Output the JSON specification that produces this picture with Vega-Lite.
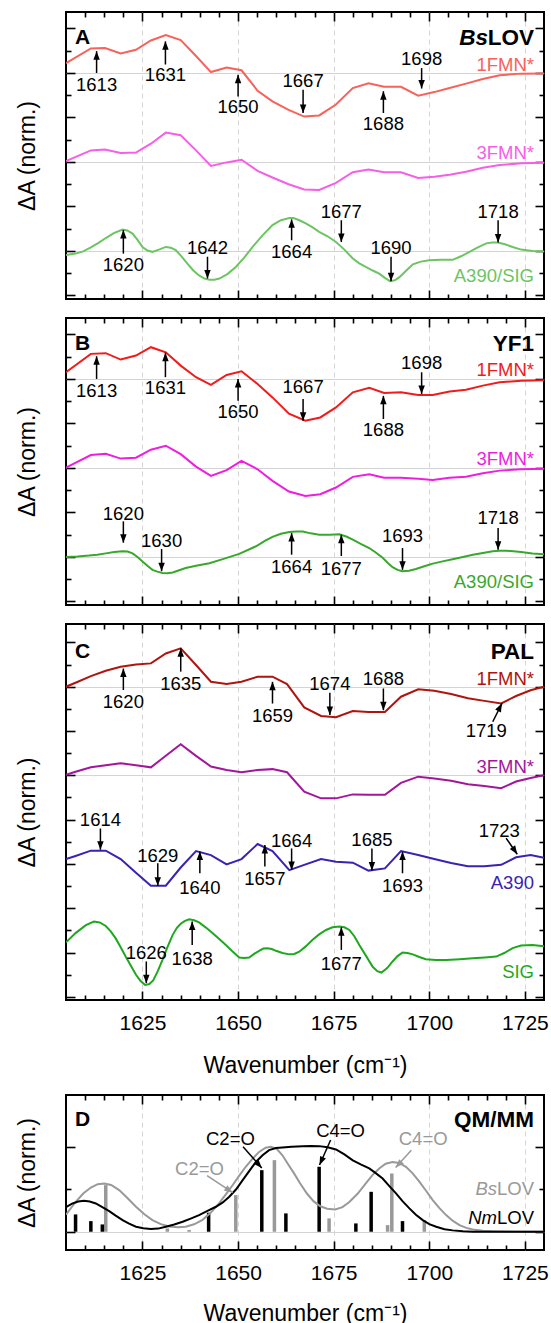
{
"$schema": "https://vega.github.io/schema/vega-lite/v6.json",
"padding": {"left": 15, "top": 10, "right": 5, "bottom": 0},
"config": {"font": "Liberation Sans", "view": {"stroke": "black", "strokeWidth": 2}, "axis": {"labelFont": "Liberation Sans", "titleFont": "Liberation Sans"}},
"spacing": 15,
"resolve": {"scale": {"color": "independent", "shape": "independent"}},
"datasets": {
"aL": [
{"x":1605,"y":0.22,"s":"1FMN*"},{"x":1611.5,"y":0.55,"s":"1FMN*"},{"x":1615.2,"y":0.56,"s":"1FMN*"},{"x":1619.3,"y":0.44,"s":"1FMN*"},{"x":1623.3,"y":0.52,"s":"1FMN*"},{"x":1627.2,"y":0.73,"s":"1FMN*"},{"x":1631.1,"y":0.85,"s":"1FMN*"},{"x":1635,"y":0.74,"s":"1FMN*"},{"x":1639,"y":0.38,"s":"1FMN*"},{"x":1642.9,"y":0.02,"s":"1FMN*"},{"x":1647,"y":0.12,"s":"1FMN*"},{"x":1650.9,"y":0.06,"s":"1FMN*"},{"x":1655.1,"y":-0.40,"s":"1FMN*"},{"x":1659,"y":-0.64,"s":"1FMN*"},{"x":1663.2,"y":-0.83,"s":"1FMN*"},{"x":1667.3,"y":-0.98,"s":"1FMN*"},{"x":1671.2,"y":-0.955,"s":"1FMN*"},{"x":1675.6,"y":-0.71,"s":"1FMN*"},{"x":1680,"y":-0.34,"s":"1FMN*"},{"x":1684.1,"y":-0.23,"s":"1FMN*"},{"x":1688.2,"y":-0.31,"s":"1FMN*"},{"x":1692.6,"y":-0.31,"s":"1FMN*"},{"x":1697.1,"y":-0.51,"s":"1FMN*"},{"x":1701.3,"y":-0.43,"s":"1FMN*"},{"x":1705.3,"y":-0.34,"s":"1FMN*"},{"x":1709.6,"y":-0.24,"s":"1FMN*"},{"x":1714,"y":-0.135,"s":"1FMN*"},{"x":1718.4,"y":-0.05,"s":"1FMN*"},{"x":1724,"y":-0.015,"s":"1FMN*"},{"x":1730,"y":-0.01,"s":"1FMN*"},
{"x":1605,"y":-1.98,"s":"3FMN*"},{"x":1611.5,"y":-1.74,"s":"3FMN*"},{"x":1615.2,"y":-1.72,"s":"3FMN*"},{"x":1619.3,"y":-1.80,"s":"3FMN*"},{"x":1623.3,"y":-1.79,"s":"3FMN*"},{"x":1627.2,"y":-1.59,"s":"3FMN*"},{"x":1631.1,"y":-1.34,"s":"3FMN*"},{"x":1635,"y":-1.40,"s":"3FMN*"},{"x":1639,"y":-1.74,"s":"3FMN*"},{"x":1642.9,"y":-2.09,"s":"3FMN*"},{"x":1647,"y":-2.01,"s":"3FMN*"},{"x":1650.9,"y":-1.95,"s":"3FMN*"},{"x":1655.1,"y":-2.20,"s":"3FMN*"},{"x":1659,"y":-2.35,"s":"3FMN*"},{"x":1663.2,"y":-2.50,"s":"3FMN*"},{"x":1667.3,"y":-2.62,"s":"3FMN*"},{"x":1671.2,"y":-2.63,"s":"3FMN*"},{"x":1675.6,"y":-2.47,"s":"3FMN*"},{"x":1680,"y":-2.23,"s":"3FMN*"},{"x":1684.1,"y":-2.17,"s":"3FMN*"},{"x":1688.2,"y":-2.23,"s":"3FMN*"},{"x":1692.6,"y":-2.23,"s":"3FMN*"},{"x":1697.1,"y":-2.36,"s":"3FMN*"},{"x":1701.3,"y":-2.33,"s":"3FMN*"},{"x":1705.3,"y":-2.29,"s":"3FMN*"},{"x":1709.6,"y":-2.22,"s":"3FMN*"},{"x":1714,"y":-2.13,"s":"3FMN*"},{"x":1718.4,"y":-2.07,"s":"3FMN*"},{"x":1724,"y":-2.03,"s":"3FMN*"},{"x":1730,"y":-2.02,"s":"3FMN*"},
{"x":1605,"y":-4.09,"s":"A390/SIG"},{"x":1607.5,"y":-4.06,"s":"A390/SIG"},{"x":1609.5,"y":-4.01,"s":"A390/SIG"},{"x":1611.5,"y":-3.92,"s":"A390/SIG"},{"x":1613.5,"y":-3.82,"s":"A390/SIG"},{"x":1615.4,"y":-3.71,"s":"A390/SIG"},{"x":1617.5,"y":-3.60,"s":"A390/SIG"},{"x":1619.8,"y":-3.52,"s":"A390/SIG"},{"x":1621,"y":-3.54,"s":"A390/SIG"},{"x":1622.4,"y":-3.61,"s":"A390/SIG"},{"x":1623.7,"y":-3.75,"s":"A390/SIG"},{"x":1625,"y":-3.91,"s":"A390/SIG"},{"x":1626.3,"y":-3.99,"s":"A390/SIG"},{"x":1627.6,"y":-4.02,"s":"A390/SIG"},{"x":1629.3,"y":-3.97,"s":"A390/SIG"},{"x":1631.1,"y":-3.91,"s":"A390/SIG"},{"x":1632.4,"y":-3.93,"s":"A390/SIG"},{"x":1633.7,"y":-3.98,"s":"A390/SIG"},{"x":1635.2,"y":-4.12,"s":"A390/SIG"},{"x":1636.8,"y":-4.29,"s":"A390/SIG"},{"x":1638.3,"y":-4.44,"s":"A390/SIG"},{"x":1639.8,"y":-4.55,"s":"A390/SIG"},{"x":1641.2,"y":-4.62,"s":"A390/SIG"},{"x":1642.5,"y":-4.65,"s":"A390/SIG"},{"x":1643.8,"y":-4.645,"s":"A390/SIG"},{"x":1645.1,"y":-4.62,"s":"A390/SIG"},{"x":1647.2,"y":-4.52,"s":"A390/SIG"},{"x":1649.4,"y":-4.36,"s":"A390/SIG"},{"x":1651.6,"y":-4.15,"s":"A390/SIG"},{"x":1653.8,"y":-3.91,"s":"A390/SIG"},{"x":1656.4,"y":-3.65,"s":"A390/SIG"},{"x":1659,"y":-3.42,"s":"A390/SIG"},{"x":1661.2,"y":-3.31,"s":"A390/SIG"},{"x":1663.4,"y":-3.26,"s":"A390/SIG"},{"x":1664.5,"y":-3.26,"s":"A390/SIG"},{"x":1666,"y":-3.31,"s":"A390/SIG"},{"x":1667.7,"y":-3.38,"s":"A390/SIG"},{"x":1669.5,"y":-3.47,"s":"A390/SIG"},{"x":1671.2,"y":-3.57,"s":"A390/SIG"},{"x":1673.4,"y":-3.67,"s":"A390/SIG"},{"x":1675.6,"y":-3.80,"s":"A390/SIG"},{"x":1677.8,"y":-3.97,"s":"A390/SIG"},{"x":1680,"y":-4.17,"s":"A390/SIG"},{"x":1681.7,"y":-4.28,"s":"A390/SIG"},{"x":1683.4,"y":-4.36,"s":"A390/SIG"},{"x":1685.2,"y":-4.44,"s":"A390/SIG"},{"x":1686.9,"y":-4.51,"s":"A390/SIG"},{"x":1688.3,"y":-4.60,"s":"A390/SIG"},{"x":1689.7,"y":-4.68,"s":"A390/SIG"},{"x":1691,"y":-4.66,"s":"A390/SIG"},{"x":1692.2,"y":-4.59,"s":"A390/SIG"},{"x":1694,"y":-4.44,"s":"A390/SIG"},{"x":1695.7,"y":-4.30,"s":"A390/SIG"},{"x":1697.8,"y":-4.24,"s":"A390/SIG"},{"x":1700,"y":-4.21,"s":"A390/SIG"},{"x":1703,"y":-4.20,"s":"A390/SIG"},{"x":1706.1,"y":-4.20,"s":"A390/SIG"},{"x":1708.3,"y":-4.12,"s":"A390/SIG"},{"x":1710.5,"y":-4.02,"s":"A390/SIG"},{"x":1712.7,"y":-3.92,"s":"A390/SIG"},{"x":1714.9,"y":-3.83,"s":"A390/SIG"},{"x":1716.4,"y":-3.81,"s":"A390/SIG"},{"x":1717.9,"y":-3.81,"s":"A390/SIG"},{"x":1719.8,"y":-3.85,"s":"A390/SIG"},{"x":1721.8,"y":-3.91,"s":"A390/SIG"},{"x":1724,"y":-3.97,"s":"A390/SIG"},{"x":1727,"y":-4.0,"s":"A390/SIG"},{"x":1730,"y":-4.01,"s":"A390/SIG"}
],
"aA": [
{"lab":"1613","x":1613,"xt":1613,"tail":0.0,"tip":0.49,"lx":1613,"ly":-0.24,"dir":"up"},
{"lab":"1631","x":1631,"xt":1631,"tail":0.19,"tip":0.71,"lx":1631,"ly":-0.02,"dir":"up"},
{"lab":"1650","x":1650,"xt":1650,"tail":-0.53,"tip":-0.04,"lx":1650,"ly":-0.74,"dir":"up"},
{"lab":"1667","x":1667,"xt":1667,"tail":-0.38,"tip":-0.90,"lx":1667,"ly":-0.165,"dir":"down"},
{"lab":"1688","x":1688,"xt":1688,"tail":-0.90,"tip":-0.41,"lx":1688,"ly":-1.13,"dir":"up"},
{"lab":"1698","x":1698,"xt":1698,"tail":0.11,"tip":-0.35,"lx":1698,"ly":0.34,"dir":"down"},
{"lab":"1620","x":1620,"xt":1620,"tail":-4.06,"tip":-3.53,"lx":1620,"ly":-4.30,"dir":"up"},
{"lab":"1642","x":1642,"xt":1642,"tail":-4.13,"tip":-4.62,"lx":1642,"ly":-3.92,"dir":"down"},
{"lab":"1664","x":1664,"xt":1664,"tail":-3.76,"tip":-3.29,"lx":1664,"ly":-4.0,"dir":"up"},
{"lab":"1677","x":1677,"xt":1677,"tail":-3.31,"tip":-3.80,"lx":1677,"ly":-3.10,"dir":"down"},
{"lab":"1690","x":1690,"xt":1690,"tail":-4.13,"tip":-4.68,"lx":1690,"ly":-3.91,"dir":"down"},
{"lab":"1718","x":1718,"xt":1718,"tail":-3.31,"tip":-3.81,"lx":1718,"ly":-3.10,"dir":"down"}
],
"aS": [{"s":"1FMN*","y":0.2},{"s":"3FMN*","y":-1.77},{"s":"A390/SIG","y":-4.53}],
"bL": [
{"x":1605,"y":0.15,"s":"1FMN*"},{"x":1611.5,"y":0.564,"s":"1FMN*"},{"x":1615.4,"y":0.579,"s":"1FMN*"},{"x":1619.3,"y":0.436,"s":"1FMN*"},{"x":1623.3,"y":0.526,"s":"1FMN*"},{"x":1627.2,"y":0.714,"s":"1FMN*"},{"x":1631.1,"y":0.60,"s":"1FMN*"},{"x":1635,"y":0.30,"s":"1FMN*"},{"x":1639,"y":0.04,"s":"1FMN*"},{"x":1642.9,"y":-0.135,"s":"1FMN*"},{"x":1647,"y":0.09,"s":"1FMN*"},{"x":1650.9,"y":0.173,"s":"1FMN*"},{"x":1655.1,"y":-0.113,"s":"1FMN*"},{"x":1659,"y":-0.414,"s":"1FMN*"},{"x":1663.3,"y":-0.78,"s":"1FMN*"},{"x":1667.6,"y":-0.94,"s":"1FMN*"},{"x":1671.5,"y":-0.865,"s":"1FMN*"},{"x":1675.6,"y":-0.64,"s":"1FMN*"},{"x":1680,"y":-0.30,"s":"1FMN*"},{"x":1684.3,"y":-0.20,"s":"1FMN*"},{"x":1688.2,"y":-0.316,"s":"1FMN*"},{"x":1692.6,"y":-0.30,"s":"1FMN*"},{"x":1697.1,"y":-0.36,"s":"1FMN*"},{"x":1700.9,"y":-0.36,"s":"1FMN*"},{"x":1705.3,"y":-0.28,"s":"1FMN*"},{"x":1709.6,"y":-0.24,"s":"1FMN*"},{"x":1714,"y":-0.15,"s":"1FMN*"},{"x":1718.4,"y":-0.075,"s":"1FMN*"},{"x":1724,"y":-0.04,"s":"1FMN*"},{"x":1730,"y":-0.03,"s":"1FMN*"},
{"x":1605,"y":-1.99,"s":"3FMN*"},{"x":1611.5,"y":-1.71,"s":"3FMN*"},{"x":1615.4,"y":-1.68,"s":"3FMN*"},{"x":1619.3,"y":-1.79,"s":"3FMN*"},{"x":1623.3,"y":-1.77,"s":"3FMN*"},{"x":1627.2,"y":-1.59,"s":"3FMN*"},{"x":1631.1,"y":-1.50,"s":"3FMN*"},{"x":1635,"y":-1.69,"s":"3FMN*"},{"x":1639,"y":-1.97,"s":"3FMN*"},{"x":1642.9,"y":-2.18,"s":"3FMN*"},{"x":1647,"y":-2.05,"s":"3FMN*"},{"x":1650.9,"y":-1.84,"s":"3FMN*"},{"x":1655.1,"y":-2.03,"s":"3FMN*"},{"x":1659,"y":-2.29,"s":"3FMN*"},{"x":1663.3,"y":-2.53,"s":"3FMN*"},{"x":1667.6,"y":-2.63,"s":"3FMN*"},{"x":1671.5,"y":-2.59,"s":"3FMN*"},{"x":1675.6,"y":-2.44,"s":"3FMN*"},{"x":1680,"y":-2.20,"s":"3FMN*"},{"x":1684.3,"y":-2.14,"s":"3FMN*"},{"x":1688.2,"y":-2.22,"s":"3FMN*"},{"x":1692.6,"y":-2.22,"s":"3FMN*"},{"x":1697.1,"y":-2.24,"s":"3FMN*"},{"x":1700.9,"y":-2.27,"s":"3FMN*"},{"x":1705.3,"y":-2.22,"s":"3FMN*"},{"x":1709.6,"y":-2.20,"s":"3FMN*"},{"x":1714,"y":-2.12,"s":"3FMN*"},{"x":1718.4,"y":-2.06,"s":"3FMN*"},{"x":1724,"y":-2.03,"s":"3FMN*"},{"x":1730,"y":-2.02,"s":"3FMN*"},
{"x":1605,"y":-4.0,"s":"A390/SIG"},{"x":1608,"y":-3.99,"s":"A390/SIG"},{"x":1611,"y":-3.97,"s":"A390/SIG"},{"x":1613.2,"y":-3.95,"s":"A390/SIG"},{"x":1615.4,"y":-3.92,"s":"A390/SIG"},{"x":1617.6,"y":-3.89,"s":"A390/SIG"},{"x":1619.8,"y":-3.87,"s":"A390/SIG"},{"x":1621.1,"y":-3.88,"s":"A390/SIG"},{"x":1622.4,"y":-3.92,"s":"A390/SIG"},{"x":1623.7,"y":-4.0,"s":"A390/SIG"},{"x":1625,"y":-4.10,"s":"A390/SIG"},{"x":1626.3,"y":-4.20,"s":"A390/SIG"},{"x":1627.6,"y":-4.29,"s":"A390/SIG"},{"x":1628.9,"y":-4.33,"s":"A390/SIG"},{"x":1630.2,"y":-4.36,"s":"A390/SIG"},{"x":1631.5,"y":-4.365,"s":"A390/SIG"},{"x":1632.9,"y":-4.35,"s":"A390/SIG"},{"x":1634.6,"y":-4.30,"s":"A390/SIG"},{"x":1636.3,"y":-4.25,"s":"A390/SIG"},{"x":1639,"y":-4.20,"s":"A390/SIG"},{"x":1642.5,"y":-4.14,"s":"A390/SIG"},{"x":1646,"y":-4.05,"s":"A390/SIG"},{"x":1650.3,"y":-3.93,"s":"A390/SIG"},{"x":1654.7,"y":-3.76,"s":"A390/SIG"},{"x":1657,"y":-3.64,"s":"A390/SIG"},{"x":1659,"y":-3.55,"s":"A390/SIG"},{"x":1661.2,"y":-3.48,"s":"A390/SIG"},{"x":1663.4,"y":-3.44,"s":"A390/SIG"},{"x":1665.2,"y":-3.43,"s":"A390/SIG"},{"x":1666.9,"y":-3.43,"s":"A390/SIG"},{"x":1669,"y":-3.47,"s":"A390/SIG"},{"x":1671.2,"y":-3.50,"s":"A390/SIG"},{"x":1674,"y":-3.50,"s":"A390/SIG"},{"x":1676.5,"y":-3.49,"s":"A390/SIG"},{"x":1678.3,"y":-3.54,"s":"A390/SIG"},{"x":1680,"y":-3.61,"s":"A390/SIG"},{"x":1682.2,"y":-3.71,"s":"A390/SIG"},{"x":1684.3,"y":-3.80,"s":"A390/SIG"},{"x":1686,"y":-3.90,"s":"A390/SIG"},{"x":1687.8,"y":-4.02,"s":"A390/SIG"},{"x":1689.1,"y":-4.13,"s":"A390/SIG"},{"x":1690.4,"y":-4.23,"s":"A390/SIG"},{"x":1691.7,"y":-4.29,"s":"A390/SIG"},{"x":1693,"y":-4.32,"s":"A390/SIG"},{"x":1694.7,"y":-4.31,"s":"A390/SIG"},{"x":1696.5,"y":-4.27,"s":"A390/SIG"},{"x":1698.7,"y":-4.21,"s":"A390/SIG"},{"x":1700.9,"y":-4.15,"s":"A390/SIG"},{"x":1703.5,"y":-4.10,"s":"A390/SIG"},{"x":1706.1,"y":-4.05,"s":"A390/SIG"},{"x":1708.8,"y":-4.0,"s":"A390/SIG"},{"x":1711.4,"y":-3.95,"s":"A390/SIG"},{"x":1714,"y":-3.91,"s":"A390/SIG"},{"x":1716.6,"y":-3.87,"s":"A390/SIG"},{"x":1718.4,"y":-3.86,"s":"A390/SIG"},{"x":1720.1,"y":-3.86,"s":"A390/SIG"},{"x":1722,"y":-3.87,"s":"A390/SIG"},{"x":1724,"y":-3.89,"s":"A390/SIG"},{"x":1727,"y":-3.92,"s":"A390/SIG"},{"x":1730,"y":-3.94,"s":"A390/SIG"}
],
"bA": [
{"lab":"1613","x":1613,"xt":1613,"tail":0.0,"tip":0.51,"lx":1613,"ly":-0.24,"dir":"up"},
{"lab":"1631","x":1631,"xt":1631,"tail":0.04,"tip":0.59,"lx":1631,"ly":-0.19,"dir":"up"},
{"lab":"1650","x":1650,"xt":1650,"tail":-0.49,"tip":0.0,"lx":1650,"ly":-0.73,"dir":"up"},
{"lab":"1667","x":1667,"xt":1667,"tail":-0.45,"tip":-0.94,"lx":1667,"ly":-0.165,"dir":"down"},
{"lab":"1688","x":1688,"xt":1688,"tail":-0.90,"tip":-0.38,"lx":1688,"ly":-1.13,"dir":"up"},
{"lab":"1698","x":1698,"xt":1698,"tail":0.15,"tip":-0.34,"lx":1698,"ly":0.38,"dir":"down"},
{"lab":"1620","x":1620,"xt":1620,"tail":-3.20,"tip":-3.68,"lx":1620,"ly":-3.01,"dir":"down"},
{"lab":"1630","x":1630,"xt":1630,"tail":-3.82,"tip":-4.32,"lx":1630,"ly":-3.61,"dir":"down"},
{"lab":"1664","x":1664,"xt":1664,"tail":-3.95,"tip":-3.46,"lx":1664,"ly":-4.21,"dir":"up"},
{"lab":"1677","x":1677,"xt":1677,"tail":-3.98,"tip":-3.50,"lx":1677,"ly":-4.25,"dir":"up"},
{"lab":"1693","x":1693,"xt":1693,"tail":-3.80,"tip":-4.29,"lx":1693,"ly":-3.50,"dir":"down"},
{"lab":"1718","x":1718,"xt":1718,"tail":-3.35,"tip":-3.84,"lx":1718,"ly":-3.10,"dir":"down"}
],
"bS": [{"s":"1FMN*","y":0.22},{"s":"3FMN*","y":-1.77},{"s":"A390/SIG","y":-4.55}],
"cL": [
{"x":1605,"y":0.0,"s":"1FMN*"},{"x":1607.5,"y":0.09,"s":"1FMN*"},{"x":1611.5,"y":0.24,"s":"1FMN*"},{"x":1615.4,"y":0.36,"s":"1FMN*"},{"x":1619.3,"y":0.45,"s":"1FMN*"},{"x":1623.3,"y":0.50,"s":"1FMN*"},{"x":1627.2,"y":0.526,"s":"1FMN*"},{"x":1631.1,"y":0.75,"s":"1FMN*"},{"x":1635,"y":0.865,"s":"1FMN*"},{"x":1639,"y":0.49,"s":"1FMN*"},{"x":1642.9,"y":0.113,"s":"1FMN*"},{"x":1647,"y":0.06,"s":"1FMN*"},{"x":1650.9,"y":0.113,"s":"1FMN*"},{"x":1655.1,"y":0.226,"s":"1FMN*"},{"x":1659,"y":0.226,"s":"1FMN*"},{"x":1662.8,"y":0.06,"s":"1FMN*"},{"x":1667.3,"y":-0.466,"s":"1FMN*"},{"x":1671.7,"y":-0.66,"s":"1FMN*"},{"x":1675.6,"y":-0.69,"s":"1FMN*"},{"x":1680,"y":-0.55,"s":"1FMN*"},{"x":1684.1,"y":-0.57,"s":"1FMN*"},{"x":1688.4,"y":-0.57,"s":"1FMN*"},{"x":1692.6,"y":-0.226,"s":"1FMN*"},{"x":1697.1,"y":-0.06,"s":"1FMN*"},{"x":1701.3,"y":-0.09,"s":"1FMN*"},{"x":1705.7,"y":-0.165,"s":"1FMN*"},{"x":1710.1,"y":-0.26,"s":"1FMN*"},{"x":1714.4,"y":-0.32,"s":"1FMN*"},{"x":1718.8,"y":-0.376,"s":"1FMN*"},{"x":1722.7,"y":-0.21,"s":"1FMN*"},{"x":1726.5,"y":-0.08,"s":"1FMN*"},{"x":1730,"y":0.0,"s":"1FMN*"},
{"x":1605,"y":-1.99,"s":"3FMN*"},{"x":1607.5,"y":-1.92,"s":"3FMN*"},{"x":1611.5,"y":-1.82,"s":"3FMN*"},{"x":1615.4,"y":-1.77,"s":"3FMN*"},{"x":1619.3,"y":-1.73,"s":"3FMN*"},{"x":1623.3,"y":-1.77,"s":"3FMN*"},{"x":1627.2,"y":-1.82,"s":"3FMN*"},{"x":1631.1,"y":-1.56,"s":"3FMN*"},{"x":1635,"y":-1.30,"s":"3FMN*"},{"x":1639,"y":-1.56,"s":"3FMN*"},{"x":1642.9,"y":-1.80,"s":"3FMN*"},{"x":1647,"y":-1.88,"s":"3FMN*"},{"x":1650.9,"y":-1.93,"s":"3FMN*"},{"x":1655.1,"y":-1.88,"s":"3FMN*"},{"x":1659,"y":-1.86,"s":"3FMN*"},{"x":1662.8,"y":-1.93,"s":"3FMN*"},{"x":1667.3,"y":-2.37,"s":"3FMN*"},{"x":1671.7,"y":-2.52,"s":"3FMN*"},{"x":1675.6,"y":-2.52,"s":"3FMN*"},{"x":1680,"y":-2.43,"s":"3FMN*"},{"x":1684.1,"y":-2.44,"s":"3FMN*"},{"x":1688.4,"y":-2.44,"s":"3FMN*"},{"x":1692.6,"y":-2.17,"s":"3FMN*"},{"x":1697.1,"y":-2.03,"s":"3FMN*"},{"x":1701.3,"y":-2.07,"s":"3FMN*"},{"x":1705.7,"y":-2.12,"s":"3FMN*"},{"x":1710.1,"y":-2.20,"s":"3FMN*"},{"x":1714.4,"y":-2.24,"s":"3FMN*"},{"x":1718.8,"y":-2.29,"s":"3FMN*"},{"x":1722.7,"y":-2.14,"s":"3FMN*"},{"x":1726.5,"y":-2.06,"s":"3FMN*"},{"x":1730,"y":-2.0,"s":"3FMN*"},
{"x":1605,"y":-3.89,"s":"A390"},{"x":1607.5,"y":-3.82,"s":"A390"},{"x":1611.5,"y":-3.70,"s":"A390"},{"x":1615.4,"y":-3.70,"s":"A390"},{"x":1619.3,"y":-3.89,"s":"A390"},{"x":1623.3,"y":-4.20,"s":"A390"},{"x":1627.2,"y":-4.49,"s":"A390"},{"x":1631.1,"y":-4.49,"s":"A390"},{"x":1635,"y":-4.08,"s":"A390"},{"x":1639,"y":-3.71,"s":"A390"},{"x":1642.9,"y":-3.80,"s":"A390"},{"x":1647,"y":-4.01,"s":"A390"},{"x":1650.9,"y":-3.89,"s":"A390"},{"x":1655.1,"y":-3.55,"s":"A390"},{"x":1659,"y":-3.71,"s":"A390"},{"x":1663.4,"y":-4.14,"s":"A390"},{"x":1667.3,"y":-4.02,"s":"A390"},{"x":1671.7,"y":-3.89,"s":"A390"},{"x":1675.6,"y":-3.95,"s":"A390"},{"x":1680,"y":-3.97,"s":"A390"},{"x":1684.1,"y":-4.15,"s":"A390"},{"x":1688.4,"y":-4.10,"s":"A390"},{"x":1692.6,"y":-3.71,"s":"A390"},{"x":1697.1,"y":-3.80,"s":"A390"},{"x":1701.3,"y":-3.89,"s":"A390"},{"x":1705.7,"y":-3.98,"s":"A390"},{"x":1710.1,"y":-4.05,"s":"A390"},{"x":1714.4,"y":-4.05,"s":"A390"},{"x":1718.8,"y":-4.02,"s":"A390"},{"x":1722.7,"y":-3.85,"s":"A390"},{"x":1726.5,"y":-3.80,"s":"A390"},{"x":1730,"y":-3.86,"s":"A390"},
{"x":1605,"y":-5.77,"s":"SIG"},{"x":1607.5,"y":-5.56,"s":"SIG"},{"x":1610.2,"y":-5.38,"s":"SIG"},{"x":1612.3,"y":-5.30,"s":"SIG"},{"x":1613.8,"y":-5.32,"s":"SIG"},{"x":1615.4,"y":-5.40,"s":"SIG"},{"x":1616.7,"y":-5.52,"s":"SIG"},{"x":1618,"y":-5.68,"s":"SIG"},{"x":1619.3,"y":-5.88,"s":"SIG"},{"x":1620.6,"y":-6.09,"s":"SIG"},{"x":1622,"y":-6.30,"s":"SIG"},{"x":1623.3,"y":-6.50,"s":"SIG"},{"x":1624.5,"y":-6.64,"s":"SIG"},{"x":1625.7,"y":-6.73,"s":"SIG"},{"x":1626.8,"y":-6.71,"s":"SIG"},{"x":1627.8,"y":-6.63,"s":"SIG"},{"x":1629,"y":-6.42,"s":"SIG"},{"x":1630.2,"y":-6.17,"s":"SIG"},{"x":1631.5,"y":-5.88,"s":"SIG"},{"x":1632.9,"y":-5.60,"s":"SIG"},{"x":1634,"y":-5.44,"s":"SIG"},{"x":1635,"y":-5.35,"s":"SIG"},{"x":1636,"y":-5.29,"s":"SIG"},{"x":1637.2,"y":-5.25,"s":"SIG"},{"x":1638.5,"y":-5.27,"s":"SIG"},{"x":1639.8,"y":-5.32,"s":"SIG"},{"x":1641.5,"y":-5.43,"s":"SIG"},{"x":1643.3,"y":-5.56,"s":"SIG"},{"x":1645,"y":-5.69,"s":"SIG"},{"x":1646.8,"y":-5.83,"s":"SIG"},{"x":1648.5,"y":-5.97,"s":"SIG"},{"x":1650.3,"y":-6.11,"s":"SIG"},{"x":1651.6,"y":-6.12,"s":"SIG"},{"x":1652.9,"y":-6.11,"s":"SIG"},{"x":1654.2,"y":-6.03,"s":"SIG"},{"x":1655.5,"y":-5.96,"s":"SIG"},{"x":1656.6,"y":-5.91,"s":"SIG"},{"x":1657.7,"y":-5.90,"s":"SIG"},{"x":1658.8,"y":-5.92,"s":"SIG"},{"x":1659.9,"y":-5.96,"s":"SIG"},{"x":1661.6,"y":-6.01,"s":"SIG"},{"x":1663.4,"y":-6.04,"s":"SIG"},{"x":1664.7,"y":-6.03,"s":"SIG"},{"x":1666,"y":-5.98,"s":"SIG"},{"x":1667.7,"y":-5.86,"s":"SIG"},{"x":1669.5,"y":-5.71,"s":"SIG"},{"x":1671.2,"y":-5.59,"s":"SIG"},{"x":1673,"y":-5.49,"s":"SIG"},{"x":1674.7,"y":-5.43,"s":"SIG"},{"x":1676.5,"y":-5.41,"s":"SIG"},{"x":1677.8,"y":-5.43,"s":"SIG"},{"x":1679.1,"y":-5.49,"s":"SIG"},{"x":1680.4,"y":-5.63,"s":"SIG"},{"x":1681.7,"y":-5.83,"s":"SIG"},{"x":1683.5,"y":-6.08,"s":"SIG"},{"x":1685.2,"y":-6.32,"s":"SIG"},{"x":1686.4,"y":-6.42,"s":"SIG"},{"x":1687.5,"y":-6.45,"s":"SIG"},{"x":1689,"y":-6.35,"s":"SIG"},{"x":1690.4,"y":-6.20,"s":"SIG"},{"x":1691.7,"y":-6.08,"s":"SIG"},{"x":1693,"y":-6.00,"s":"SIG"},{"x":1694.3,"y":-6.01,"s":"SIG"},{"x":1695.7,"y":-6.04,"s":"SIG"},{"x":1697.4,"y":-6.10,"s":"SIG"},{"x":1699.1,"y":-6.15,"s":"SIG"},{"x":1701.7,"y":-6.17,"s":"SIG"},{"x":1704.4,"y":-6.17,"s":"SIG"},{"x":1708,"y":-6.15,"s":"SIG"},{"x":1711.4,"y":-6.13,"s":"SIG"},{"x":1714.5,"y":-6.11,"s":"SIG"},{"x":1717.5,"y":-6.09,"s":"SIG"},{"x":1719.6,"y":-6.01,"s":"SIG"},{"x":1721.8,"y":-5.90,"s":"SIG"},{"x":1724,"y":-5.84,"s":"SIG"},{"x":1727,"y":-5.83,"s":"SIG"},{"x":1730,"y":-5.86,"s":"SIG"}
],
"cA": [
{"lab":"1620","x":1620,"xt":1620,"tail":-0.075,"tip":0.41,"lx":1620,"ly":-0.32,"dir":"up"},
{"lab":"1635","x":1635,"xt":1635,"tail":0.34,"tip":0.865,"lx":1635,"ly":0.09,"dir":"up"},
{"lab":"1659","x":1659,"xt":1659,"tail":-0.38,"tip":0.11,"lx":1659,"ly":-0.64,"dir":"up"},
{"lab":"1674","x":1674,"xt":1674,"tail":-0.135,"tip":-0.64,"lx":1674,"ly":0.075,"dir":"down"},
{"lab":"1688","x":1688,"xt":1688,"tail":-0.04,"tip":-0.53,"lx":1688,"ly":0.19,"dir":"down"},
{"lab":"1719","x":1716.6,"xt":1719,"tail":-0.79,"tip":-0.376,"lx":1714.9,"ly":-0.98,"dir":"nne"},
{"lab":"1614","x":1614,"xt":1614,"tail":-3.20,"tip":-3.68,"lx":1614,"ly":-2.99,"dir":"down"},
{"lab":"1629","x":1629,"xt":1629,"tail":-3.985,"tip":-4.49,"lx":1629,"ly":-3.80,"dir":"down"},
{"lab":"1640","x":1640,"xt":1640,"tail":-4.21,"tip":-3.72,"lx":1640,"ly":-4.51,"dir":"up"},
{"lab":"1657","x":1657,"xt":1657,"tail":-4.06,"tip":-3.57,"lx":1657,"ly":-4.32,"dir":"up"},
{"lab":"1664","x":1664,"xt":1664,"tail":-3.65,"tip":-4.135,"lx":1664,"ly":-3.46,"dir":"down"},
{"lab":"1685","x":1685,"xt":1685,"tail":-3.65,"tip":-4.15,"lx":1685,"ly":-3.44,"dir":"down"},
{"lab":"1693","x":1693,"xt":1693,"tail":-4.21,"tip":-3.72,"lx":1693,"ly":-4.47,"dir":"up"},
{"lab":"1723","x":1720.1,"xt":1723,"tail":-3.42,"tip":-3.78,"lx":1718.3,"ly":-3.23,"dir":"sse"},
{"lab":"1626","x":1626,"xt":1626,"tail":-6.20,"tip":-6.69,"lx":1626,"ly":-5.98,"dir":"down"},
{"lab":"1638","x":1638,"xt":1638,"tail":-5.83,"tip":-5.30,"lx":1638,"ly":-6.13,"dir":"up"},
{"lab":"1677","x":1677,"xt":1677,"tail":-5.94,"tip":-5.43,"lx":1677,"ly":-6.24,"dir":"up"}
],
"cS": [{"s":"1FMN*","y":0.19},{"s":"3FMN*","y":-1.80},{"s":"A390","y":-4.40},{"s":"SIG","y":-6.41}],
"dL": [
{"x":1605,"y":0.20,"grp":"BsLOV"},{"x":1607.5,"y":0.35,"grp":"BsLOV"},{"x":1609.5,"y":0.45,"grp":"BsLOV"},{"x":1611.5,"y":0.52,"grp":"BsLOV"},{"x":1613.3,"y":0.56,"grp":"BsLOV"},{"x":1615,"y":0.569,"grp":"BsLOV"},{"x":1616.8,"y":0.55,"grp":"BsLOV"},{"x":1618.9,"y":0.49,"grp":"BsLOV"},{"x":1621,"y":0.40,"grp":"BsLOV"},{"x":1623.3,"y":0.294,"grp":"BsLOV"},{"x":1625.5,"y":0.205,"grp":"BsLOV"},{"x":1627.6,"y":0.137,"grp":"BsLOV"},{"x":1629.8,"y":0.09,"grp":"BsLOV"},{"x":1632,"y":0.062,"grp":"BsLOV"},{"x":1634.2,"y":0.052,"grp":"BsLOV"},{"x":1636.3,"y":0.06,"grp":"BsLOV"},{"x":1638.5,"y":0.088,"grp":"BsLOV"},{"x":1640.7,"y":0.14,"grp":"BsLOV"},{"x":1642.9,"y":0.225,"grp":"BsLOV"},{"x":1645,"y":0.335,"grp":"BsLOV"},{"x":1646.8,"y":0.44,"grp":"BsLOV"},{"x":1648.6,"y":0.55,"grp":"BsLOV"},{"x":1650.3,"y":0.66,"grp":"BsLOV"},{"x":1652,"y":0.765,"grp":"BsLOV"},{"x":1653.8,"y":0.86,"grp":"BsLOV"},{"x":1655.5,"y":0.94,"grp":"BsLOV"},{"x":1657.2,"y":0.99,"grp":"BsLOV"},{"x":1658.6,"y":1.0,"grp":"BsLOV"},{"x":1660.1,"y":0.975,"grp":"BsLOV"},{"x":1661.6,"y":0.90,"grp":"BsLOV"},{"x":1663,"y":0.80,"grp":"BsLOV"},{"x":1664.6,"y":0.69,"grp":"BsLOV"},{"x":1666.2,"y":0.57,"grp":"BsLOV"},{"x":1668,"y":0.45,"grp":"BsLOV"},{"x":1669.7,"y":0.36,"grp":"BsLOV"},{"x":1671.5,"y":0.30,"grp":"BsLOV"},{"x":1673.3,"y":0.27,"grp":"BsLOV"},{"x":1675.4,"y":0.262,"grp":"BsLOV"},{"x":1677.3,"y":0.29,"grp":"BsLOV"},{"x":1679.1,"y":0.35,"grp":"BsLOV"},{"x":1681.3,"y":0.45,"grp":"BsLOV"},{"x":1683.4,"y":0.57,"grp":"BsLOV"},{"x":1685.2,"y":0.67,"grp":"BsLOV"},{"x":1686.9,"y":0.745,"grp":"BsLOV"},{"x":1688.6,"y":0.80,"grp":"BsLOV"},{"x":1690.4,"y":0.82,"grp":"BsLOV"},{"x":1692.1,"y":0.81,"grp":"BsLOV"},{"x":1693.9,"y":0.765,"grp":"BsLOV"},{"x":1695.6,"y":0.69,"grp":"BsLOV"},{"x":1697.4,"y":0.59,"grp":"BsLOV"},{"x":1699.2,"y":0.48,"grp":"BsLOV"},{"x":1700.9,"y":0.373,"grp":"BsLOV"},{"x":1702.6,"y":0.28,"grp":"BsLOV"},{"x":1704.4,"y":0.196,"grp":"BsLOV"},{"x":1706.1,"y":0.13,"grp":"BsLOV"},{"x":1707.9,"y":0.078,"grp":"BsLOV"},{"x":1709.7,"y":0.045,"grp":"BsLOV"},{"x":1711.4,"y":0.027,"grp":"BsLOV"},{"x":1714,"y":0.013,"grp":"BsLOV"},{"x":1716.6,"y":0.007,"grp":"BsLOV"},{"x":1720,"y":0.002,"grp":"BsLOV"},{"x":1724,"y":0.0,"grp":"BsLOV"},{"x":1730,"y":0.0,"grp":"BsLOV"},
{"x":1605,"y":0.29,"grp":"NmLOV"},{"x":1606.7,"y":0.333,"grp":"NmLOV"},{"x":1608.2,"y":0.355,"grp":"NmLOV"},{"x":1609.7,"y":0.365,"grp":"NmLOV"},{"x":1611.2,"y":0.355,"grp":"NmLOV"},{"x":1612.8,"y":0.333,"grp":"NmLOV"},{"x":1614.5,"y":0.29,"grp":"NmLOV"},{"x":1616.3,"y":0.243,"grp":"NmLOV"},{"x":1618,"y":0.19,"grp":"NmLOV"},{"x":1619.8,"y":0.137,"grp":"NmLOV"},{"x":1621.5,"y":0.095,"grp":"NmLOV"},{"x":1623.3,"y":0.059,"grp":"NmLOV"},{"x":1625.2,"y":0.04,"grp":"NmLOV"},{"x":1627.2,"y":0.031,"grp":"NmLOV"},{"x":1629.1,"y":0.037,"grp":"NmLOV"},{"x":1631.1,"y":0.059,"grp":"NmLOV"},{"x":1633.3,"y":0.085,"grp":"NmLOV"},{"x":1635.5,"y":0.118,"grp":"NmLOV"},{"x":1637.6,"y":0.155,"grp":"NmLOV"},{"x":1639.8,"y":0.196,"grp":"NmLOV"},{"x":1642,"y":0.245,"grp":"NmLOV"},{"x":1644.2,"y":0.294,"grp":"NmLOV"},{"x":1646,"y":0.345,"grp":"NmLOV"},{"x":1647.7,"y":0.412,"grp":"NmLOV"},{"x":1649.5,"y":0.50,"grp":"NmLOV"},{"x":1651.2,"y":0.608,"grp":"NmLOV"},{"x":1653,"y":0.72,"grp":"NmLOV"},{"x":1654.7,"y":0.824,"grp":"NmLOV"},{"x":1656.4,"y":0.90,"grp":"NmLOV"},{"x":1658.1,"y":0.961,"grp":"NmLOV"},{"x":1659.9,"y":0.985,"grp":"NmLOV"},{"x":1661.6,"y":0.992,"grp":"NmLOV"},{"x":1664,"y":1.0,"grp":"NmLOV"},{"x":1666.9,"y":1.008,"grp":"NmLOV"},{"x":1669,"y":1.01,"grp":"NmLOV"},{"x":1671.2,"y":1.008,"grp":"NmLOV"},{"x":1673.4,"y":0.995,"grp":"NmLOV"},{"x":1675.6,"y":0.969,"grp":"NmLOV"},{"x":1677.8,"y":0.91,"grp":"NmLOV"},{"x":1680,"y":0.84,"grp":"NmLOV"},{"x":1682.2,"y":0.79,"grp":"NmLOV"},{"x":1684.3,"y":0.745,"grp":"NmLOV"},{"x":1686,"y":0.69,"grp":"NmLOV"},{"x":1687.8,"y":0.627,"grp":"NmLOV"},{"x":1689.5,"y":0.54,"grp":"NmLOV"},{"x":1691.3,"y":0.451,"grp":"NmLOV"},{"x":1693,"y":0.36,"grp":"NmLOV"},{"x":1694.8,"y":0.275,"grp":"NmLOV"},{"x":1696.5,"y":0.20,"grp":"NmLOV"},{"x":1698.3,"y":0.137,"grp":"NmLOV"},{"x":1700,"y":0.09,"grp":"NmLOV"},{"x":1701.8,"y":0.059,"grp":"NmLOV"},{"x":1704,"y":0.03,"grp":"NmLOV"},{"x":1706.1,"y":0.016,"grp":"NmLOV"},{"x":1708.8,"y":0.006,"grp":"NmLOV"},{"x":1711.4,"y":0.0,"grp":"NmLOV"},{"x":1730,"y":0.0,"grp":"NmLOV"}
],
"dK": [
{"x":1615.4,"h":0.549,"grp":"BsLOV"},{"x":1631.5,"h":0.039,"grp":"BsLOV"},{"x":1637.2,"h":0.02,"grp":"BsLOV"},{"x":1649.4,"h":0.431,"grp":"BsLOV"},{"x":1659.5,"h":0.843,"grp":"BsLOV"},{"x":1673.8,"h":0.157,"grp":"BsLOV"},{"x":1689.1,"h":0.078,"grp":"BsLOV"},{"x":1690.2,"h":0.686,"grp":"BsLOV"},{"x":1698.7,"h":0.137,"grp":"BsLOV"},
{"x":1607.5,"h":0.204,"grp":"NmLOV"},{"x":1611.5,"h":0.125,"grp":"NmLOV"},{"x":1614.5,"h":0.086,"grp":"NmLOV"},{"x":1642.3,"h":0.224,"grp":"NmLOV"},{"x":1656.2,"h":0.725,"grp":"NmLOV"},{"x":1662.5,"h":0.216,"grp":"NmLOV"},{"x":1671.2,"h":0.765,"grp":"NmLOV"},{"x":1680.8,"h":0.098,"grp":"NmLOV"},{"x":1684.8,"h":0.47,"grp":"NmLOV"},{"x":1693,"h":0.125,"grp":"NmLOV"}
],
"dA": [
{"lab":"C2=O","grp":"NmLOV","x":1651.3,"xt":1656.2,"tail":1.0,"tip":0.75,"lx":1648,"ly":1.10,"dir":"se"},
{"lab":"C2=O","grp":"BsLOV","x":1641.9,"xt":1648.6,"tail":0.66,"tip":0.46,"lx":1639.9,"ly":0.75,"dir":"ese"},
{"lab":"C4=O","grp":"NmLOV","x":1674.2,"xt":1671.3,"tail":1.08,"tip":0.785,"lx":1676.8,"ly":1.196,"dir":"ssw"},
{"lab":"C4=O","grp":"BsLOV","x":1695.3,"xt":1691.2,"tail":0.96,"tip":0.755,"lx":1698.4,"ly":1.10,"dir":"sw"}
],
"dN": [{"t":"Bs","grp":"BsLOV","y":0.51},{"t":"Nm","grp":"NmLOV","y":0.176}],
"dM": [{"t":"LOV","grp":"BsLOV","y":0.51},{"t":"LOV","grp":"NmLOV","y":0.176}]
},
"vconcat": [
{
"width": 478, "height": 287,
"resolve": {"axis": {"x": "independent", "y": "independent"}},
"layer": [
{"data": {"name": "aL"}, "mark": {"type": "line", "strokeWidth": 2, "clip": true},
 "encoding": {
  "x": {"field": "x", "type": "quantitative", "scale": {"domain": [1605, 1730], "nice": false, "zero": false}, "axis": {"orient": "bottom", "values": [1625,1650,1675,1700,1725], "grid": true, "gridColor": "#d4d4d4", "gridDash": [5,4], "gridWidth": 1, "ticks": false, "labels": false, "domain": false, "title": null}},
  "y": {"field": "y", "type": "quantitative", "scale": {"domain": [-5.08, 1.37], "nice": false, "zero": false}, "axis": {"orient": "left", "values": [0,-2,-4], "grid": true, "gridColor": "#d4d4d4", "gridWidth": 1.2, "ticks": false, "labels": false, "domain": false, "title": "ΔA (norm.)", "titleFontSize": 23, "titleFontWeight": "normal", "titleColor": "black", "titlePadding": 27, "minExtent": 0, "maxExtent": 0}},
  "color": {"field": "s", "type": "nominal", "scale": {"domain": ["1FMN*","3FMN*","A390/SIG"], "range": ["#f7625a","#f75ee6","#6dc462"]}, "legend": null}}},
{"data": {"name": "aA"}, "mark": {"type": "rule", "strokeWidth": 1.5, "color": "black"},
 "encoding": {
  "x": {"field": "x", "type": "quantitative", "scale": {"domain": [1605, 1730], "nice": false, "zero": false}, "axis": {"orient": "bottom", "values": [1625,1650,1675,1700,1725], "tickSize": -9, "tickWidth": 1.6, "tickColor": "black", "labels": false, "domain": false, "grid": false, "title": null}},
  "x2": {"field": "xt"},
  "y": {"field": "tail", "type": "quantitative", "scale": {"domain": [-5.08, 1.37], "nice": false, "zero": false}, "axis": {"orient": "left", "values": [-5,-4,-3,-2,-1,0,1], "tickSize": -9, "tickWidth": 1.6, "tickColor": "black", "labels": false, "domain": false, "grid": false, "title": null, "minExtent": 0, "maxExtent": 0}},
  "y2": {"field": "tip"}}},
{"data": {"name": "aA"}, "mark": {"type": "point", "filled": true, "size": 289, "opacity": 1, "color": "black", "strokeWidth": 0},
 "encoding": {
  "x": {"field": "xt", "type": "quantitative", "scale": {"domain": [1605, 1730], "nice": false, "zero": false}, "axis": {"orient": "bottom", "values": [1610,1615,1620,1630,1635,1640,1645,1655,1660,1665,1670,1680,1685,1690,1695,1705,1710,1715,1720], "tickSize": -5, "tickWidth": 1.6, "tickColor": "black", "labels": false, "domain": false, "grid": false, "title": null}},
  "y": {"field": "tip", "type": "quantitative", "scale": {"domain": [-5.08, 1.37], "nice": false, "zero": false}, "axis": {"orient": "left", "values": [-4.5,-3.5,-2.5,-1.5,-0.5,0.5], "tickSize": -5, "tickWidth": 1.6, "tickColor": "black", "labels": false, "domain": false, "grid": false, "title": null, "minExtent": 0, "maxExtent": 0}},
  "shape": {"field": "dir", "type": "nominal", "scale": {"domain": ["up","down","nne","sse","se","ese","ssw","sw"], "range": ["M0,0L-0.38,1L0.38,1Z","M0,0L-0.38,-1L0.38,-1Z","M0,0L-0.793,0.719L-0.115,1.064Z","M0,0L-0.244,-1.042L-0.874,-0.617Z","M0,0L-0.387,-0.997L-0.951,-0.489Z","M0,0L-0.617,-0.874L-1.041,-0.244Z","M0,0L0.754,-0.759L0.06,-1.069Z","M0,0L0.968,-0.455L0.422,-0.983Z"]}, "legend": null}}},
{"data": {"name": "aA"}, "mark": {"type": "text", "fontSize": 18.5, "baseline": "middle", "dy": 1, "color": "black"},
 "encoding": {
  "x": {"field": "lx", "type": "quantitative", "scale": {"domain": [1605, 1730], "nice": false, "zero": false}, "axis": {"orient": "top", "values": [1625,1650,1675,1700,1725], "tickSize": -9, "tickWidth": 1.6, "tickColor": "black", "labels": false, "domain": false, "grid": false, "title": null}},
  "y": {"field": "ly", "type": "quantitative", "scale": {"domain": [-5.08, 1.37], "nice": false, "zero": false}, "axis": {"orient": "right", "values": [-5,-4,-3,-2,-1,0,1], "tickSize": -9, "tickWidth": 1.6, "tickColor": "black", "labels": false, "domain": false, "grid": false, "title": null, "minExtent": 0, "maxExtent": 0}},
  "text": {"field": "lab"}}},
{"data": {"name": "aS"}, "mark": {"type": "text", "fontSize": 18.5, "align": "right", "dx": -10, "baseline": "middle", "dy": 1},
 "encoding": {
  "x": {"datum": 1730, "type": "quantitative", "scale": {"domain": [1605, 1730], "nice": false, "zero": false}, "axis": {"orient": "top", "values": [1610,1615,1620,1630,1635,1640,1645,1655,1660,1665,1670,1680,1685,1690,1695,1705,1710,1715,1720], "tickSize": -5, "tickWidth": 1.6, "tickColor": "black", "labels": false, "domain": false, "grid": false, "title": null}},
  "y": {"field": "y", "type": "quantitative", "scale": {"domain": [-5.08, 1.37], "nice": false, "zero": false}, "axis": {"orient": "right", "values": [-4.5,-3.5,-2.5,-1.5,-0.5,0.5], "tickSize": -5, "tickWidth": 1.6, "tickColor": "black", "labels": false, "domain": false, "grid": false, "title": null, "minExtent": 0, "maxExtent": 0}},
  "text": {"field": "s"},
  "color": {"field": "s", "type": "nominal", "legend": null}}},
{"data": {"values": [{"t": "A"}]}, "mark": {"type": "text", "fontSize": 21, "fontWeight": "bold", "align": "left", "dx": 9, "baseline": "middle", "dy": 1, "color": "black"},
 "encoding": {"x": {"datum": 1605, "type": "quantitative", "axis": null}, "y": {"datum": 0.8, "type": "quantitative", "axis": null}, "text": {"field": "t"}}},
{"data": {"values": [{"t": "LOV"}]}, "mark": {"type": "text", "fontSize": 22.5, "fontWeight": "bold", "align": "right", "dx": -10, "baseline": "middle", "dy": 1, "color": "black"},
 "encoding": {"x": {"datum": 1730, "type": "quantitative", "axis": null}, "y": {"datum": 0.8, "type": "quantitative", "axis": null}, "text": {"field": "t"}}},
{"data": {"values": [{"t": "Bs"}]}, "mark": {"type": "text", "fontSize": 22.5, "fontWeight": "bold", "fontStyle": "italic", "align": "right", "dx": -56, "baseline": "middle", "dy": 1, "color": "black"},
 "encoding": {"x": {"datum": 1730, "type": "quantitative", "axis": null}, "y": {"datum": 0.8, "type": "quantitative", "axis": null}, "text": {"field": "t"}}}
]
},
{
"width": 478, "height": 287,
"resolve": {"axis": {"x": "independent", "y": "independent"}},
"layer": [
{"data": {"name": "bL"}, "mark": {"type": "line", "strokeWidth": 2, "clip": true},
 "encoding": {
  "x": {"field": "x", "type": "quantitative", "scale": {"domain": [1605, 1730], "nice": false, "zero": false}, "axis": {"orient": "bottom", "values": [1625,1650,1675,1700,1725], "grid": true, "gridColor": "#d4d4d4", "gridDash": [5,4], "gridWidth": 1, "ticks": false, "labels": false, "domain": false, "title": null}},
  "y": {"field": "y", "type": "quantitative", "scale": {"domain": [-5.08, 1.37], "nice": false, "zero": false}, "axis": {"orient": "left", "values": [0,-2,-4], "grid": true, "gridColor": "#d4d4d4", "gridWidth": 1.2, "ticks": false, "labels": false, "domain": false, "title": "ΔA (norm.)", "titleFontSize": 23, "titleFontWeight": "normal", "titleColor": "black", "titlePadding": 27, "minExtent": 0, "maxExtent": 0}},
  "color": {"field": "s", "type": "nominal", "scale": {"domain": ["1FMN*","3FMN*","A390/SIG"], "range": ["#f01c1c","#ee1ee0","#38a82c"]}, "legend": null}}},
{"data": {"name": "bA"}, "mark": {"type": "rule", "strokeWidth": 1.5, "color": "black"},
 "encoding": {
  "x": {"field": "x", "type": "quantitative", "scale": {"domain": [1605, 1730], "nice": false, "zero": false}, "axis": {"orient": "bottom", "values": [1625,1650,1675,1700,1725], "tickSize": -9, "tickWidth": 1.6, "tickColor": "black", "labels": false, "domain": false, "grid": false, "title": null}},
  "x2": {"field": "xt"},
  "y": {"field": "tail", "type": "quantitative", "scale": {"domain": [-5.08, 1.37], "nice": false, "zero": false}, "axis": {"orient": "left", "values": [-5,-4,-3,-2,-1,0,1], "tickSize": -9, "tickWidth": 1.6, "tickColor": "black", "labels": false, "domain": false, "grid": false, "title": null, "minExtent": 0, "maxExtent": 0}},
  "y2": {"field": "tip"}}},
{"data": {"name": "bA"}, "mark": {"type": "point", "filled": true, "size": 289, "opacity": 1, "color": "black", "strokeWidth": 0},
 "encoding": {
  "x": {"field": "xt", "type": "quantitative", "scale": {"domain": [1605, 1730], "nice": false, "zero": false}, "axis": {"orient": "bottom", "values": [1610,1615,1620,1630,1635,1640,1645,1655,1660,1665,1670,1680,1685,1690,1695,1705,1710,1715,1720], "tickSize": -5, "tickWidth": 1.6, "tickColor": "black", "labels": false, "domain": false, "grid": false, "title": null}},
  "y": {"field": "tip", "type": "quantitative", "scale": {"domain": [-5.08, 1.37], "nice": false, "zero": false}, "axis": {"orient": "left", "values": [-4.5,-3.5,-2.5,-1.5,-0.5,0.5], "tickSize": -5, "tickWidth": 1.6, "tickColor": "black", "labels": false, "domain": false, "grid": false, "title": null, "minExtent": 0, "maxExtent": 0}},
  "shape": {"field": "dir", "type": "nominal", "scale": {"domain": ["up","down","nne","sse","se","ese","ssw","sw"], "range": ["M0,0L-0.38,1L0.38,1Z","M0,0L-0.38,-1L0.38,-1Z","M0,0L-0.793,0.719L-0.115,1.064Z","M0,0L-0.244,-1.042L-0.874,-0.617Z","M0,0L-0.387,-0.997L-0.951,-0.489Z","M0,0L-0.617,-0.874L-1.041,-0.244Z","M0,0L0.754,-0.759L0.06,-1.069Z","M0,0L0.968,-0.455L0.422,-0.983Z"]}, "legend": null}}},
{"data": {"name": "bA"}, "mark": {"type": "text", "fontSize": 18.5, "baseline": "middle", "dy": 1, "color": "black"},
 "encoding": {
  "x": {"field": "lx", "type": "quantitative", "scale": {"domain": [1605, 1730], "nice": false, "zero": false}, "axis": {"orient": "top", "values": [1625,1650,1675,1700,1725], "tickSize": -9, "tickWidth": 1.6, "tickColor": "black", "labels": false, "domain": false, "grid": false, "title": null}},
  "y": {"field": "ly", "type": "quantitative", "scale": {"domain": [-5.08, 1.37], "nice": false, "zero": false}, "axis": {"orient": "right", "values": [-5,-4,-3,-2,-1,0,1], "tickSize": -9, "tickWidth": 1.6, "tickColor": "black", "labels": false, "domain": false, "grid": false, "title": null, "minExtent": 0, "maxExtent": 0}},
  "text": {"field": "lab"}}},
{"data": {"name": "bS"}, "mark": {"type": "text", "fontSize": 18.5, "align": "right", "dx": -10, "baseline": "middle", "dy": 1},
 "encoding": {
  "x": {"datum": 1730, "type": "quantitative", "scale": {"domain": [1605, 1730], "nice": false, "zero": false}, "axis": {"orient": "top", "values": [1610,1615,1620,1630,1635,1640,1645,1655,1660,1665,1670,1680,1685,1690,1695,1705,1710,1715,1720], "tickSize": -5, "tickWidth": 1.6, "tickColor": "black", "labels": false, "domain": false, "grid": false, "title": null}},
  "y": {"field": "y", "type": "quantitative", "scale": {"domain": [-5.08, 1.37], "nice": false, "zero": false}, "axis": {"orient": "right", "values": [-4.5,-3.5,-2.5,-1.5,-0.5,0.5], "tickSize": -5, "tickWidth": 1.6, "tickColor": "black", "labels": false, "domain": false, "grid": false, "title": null, "minExtent": 0, "maxExtent": 0}},
  "text": {"field": "s"},
  "color": {"field": "s", "type": "nominal", "legend": null}}},
{"data": {"values": [{"t": "B"}]}, "mark": {"type": "text", "fontSize": 21, "fontWeight": "bold", "align": "left", "dx": 9, "baseline": "middle", "dy": 1, "color": "black"},
 "encoding": {"x": {"datum": 1605, "type": "quantitative", "axis": null}, "y": {"datum": 0.8, "type": "quantitative", "axis": null}, "text": {"field": "t"}}},
{"data": {"values": [{"t": "YF1"}]}, "mark": {"type": "text", "fontSize": 22.5, "fontWeight": "bold", "align": "right", "dx": -10, "baseline": "middle", "dy": 1, "color": "black"},
 "encoding": {"x": {"datum": 1730, "type": "quantitative", "axis": null}, "y": {"datum": 0.8, "type": "quantitative", "axis": null}, "text": {"field": "t"}}}
]
},
{
"width": 478, "height": 376,
"resolve": {"axis": {"x": "independent", "y": "independent"}},
"layer": [
{"data": {"name": "cL"}, "mark": {"type": "line", "strokeWidth": 2, "clip": true},
 "encoding": {
  "x": {"field": "x", "type": "quantitative", "scale": {"domain": [1605, 1730], "nice": false, "zero": false}, "axis": {"orient": "bottom", "values": [1625,1650,1675,1700,1725], "grid": true, "gridColor": "#d4d4d4", "gridDash": [5,4], "gridWidth": 1, "ticks": false, "labels": true, "format": "d", "labelFontSize": 21, "labelColor": "black", "labelPadding": 12, "domain": false, "title": "Wavenumber (cm⁻¹)", "titleFontSize": 23, "titleFontWeight": "normal", "titleColor": "black", "titlePadding": 21}},
  "y": {"field": "y", "type": "quantitative", "scale": {"domain": [-7.07, 1.415], "nice": false, "zero": false}, "axis": {"orient": "left", "values": [0,-2], "grid": true, "gridColor": "#d4d4d4", "gridWidth": 1.2, "ticks": false, "labels": false, "domain": false, "title": "ΔA (norm.)", "titleFontSize": 23, "titleFontWeight": "normal", "titleColor": "black", "titlePadding": 27, "minExtent": 0, "maxExtent": 0}},
  "color": {"field": "s", "type": "nominal", "scale": {"domain": ["1FMN*","3FMN*","A390","SIG"], "range": ["#b0140e","#a3169b","#3a22b2","#1fa81f"]}, "legend": null}}},
{"data": {"name": "cA"}, "mark": {"type": "rule", "strokeWidth": 1.5, "color": "black"},
 "encoding": {
  "x": {"field": "x", "type": "quantitative", "scale": {"domain": [1605, 1730], "nice": false, "zero": false}, "axis": {"orient": "bottom", "values": [1625,1650,1675,1700,1725], "tickSize": -9, "tickWidth": 1.6, "tickColor": "black", "labels": false, "domain": false, "grid": false, "title": null}},
  "x2": {"field": "xt"},
  "y": {"field": "tail", "type": "quantitative", "scale": {"domain": [-7.07, 1.415], "nice": false, "zero": false}, "axis": {"orient": "left", "values": [-7,-6,-5,-4,-3,-2,-1,0,1], "tickSize": -9, "tickWidth": 1.6, "tickColor": "black", "labels": false, "domain": false, "grid": false, "title": null, "minExtent": 0, "maxExtent": 0}},
  "y2": {"field": "tip"}}},
{"data": {"name": "cA"}, "mark": {"type": "point", "filled": true, "size": 289, "opacity": 1, "color": "black", "strokeWidth": 0},
 "encoding": {
  "x": {"field": "xt", "type": "quantitative", "scale": {"domain": [1605, 1730], "nice": false, "zero": false}, "axis": {"orient": "bottom", "values": [1610,1615,1620,1630,1635,1640,1645,1655,1660,1665,1670,1680,1685,1690,1695,1705,1710,1715,1720], "tickSize": -5, "tickWidth": 1.6, "tickColor": "black", "labels": false, "domain": false, "grid": false, "title": null}},
  "y": {"field": "tip", "type": "quantitative", "scale": {"domain": [-7.07, 1.415], "nice": false, "zero": false}, "axis": {"orient": "left", "values": [-6.5,-5.5,-4.5,-3.5,-2.5,-1.5,-0.5,0.5], "tickSize": -5, "tickWidth": 1.6, "tickColor": "black", "labels": false, "domain": false, "grid": false, "title": null, "minExtent": 0, "maxExtent": 0}},
  "shape": {"field": "dir", "type": "nominal", "scale": {"domain": ["up","down","nne","sse","se","ese","ssw","sw"], "range": ["M0,0L-0.38,1L0.38,1Z","M0,0L-0.38,-1L0.38,-1Z","M0,0L-0.793,0.719L-0.115,1.064Z","M0,0L-0.244,-1.042L-0.874,-0.617Z","M0,0L-0.387,-0.997L-0.951,-0.489Z","M0,0L-0.617,-0.874L-1.041,-0.244Z","M0,0L0.754,-0.759L0.06,-1.069Z","M0,0L0.968,-0.455L0.422,-0.983Z"]}, "legend": null}}},
{"data": {"name": "cA"}, "mark": {"type": "text", "fontSize": 18.5, "baseline": "middle", "dy": 1, "color": "black"},
 "encoding": {
  "x": {"field": "lx", "type": "quantitative", "scale": {"domain": [1605, 1730], "nice": false, "zero": false}, "axis": {"orient": "top", "values": [1625,1650,1675,1700,1725], "tickSize": -9, "tickWidth": 1.6, "tickColor": "black", "labels": false, "domain": false, "grid": false, "title": null}},
  "y": {"field": "ly", "type": "quantitative", "scale": {"domain": [-7.07, 1.415], "nice": false, "zero": false}, "axis": {"orient": "right", "values": [-7,-6,-5,-4,-3,-2,-1,0,1], "tickSize": -9, "tickWidth": 1.6, "tickColor": "black", "labels": false, "domain": false, "grid": false, "title": null, "minExtent": 0, "maxExtent": 0}},
  "text": {"field": "lab"}}},
{"data": {"name": "cS"}, "mark": {"type": "text", "fontSize": 18.5, "align": "right", "dx": -10, "baseline": "middle", "dy": 1},
 "encoding": {
  "x": {"datum": 1730, "type": "quantitative", "scale": {"domain": [1605, 1730], "nice": false, "zero": false}, "axis": {"orient": "top", "values": [1610,1615,1620,1630,1635,1640,1645,1655,1660,1665,1670,1680,1685,1690,1695,1705,1710,1715,1720], "tickSize": -5, "tickWidth": 1.6, "tickColor": "black", "labels": false, "domain": false, "grid": false, "title": null}},
  "y": {"field": "y", "type": "quantitative", "scale": {"domain": [-7.07, 1.415], "nice": false, "zero": false}, "axis": {"orient": "right", "values": [-6.5,-5.5,-4.5,-3.5,-2.5,-1.5,-0.5,0.5], "tickSize": -5, "tickWidth": 1.6, "tickColor": "black", "labels": false, "domain": false, "grid": false, "title": null, "minExtent": 0, "maxExtent": 0}},
  "text": {"field": "s"},
  "color": {"field": "s", "type": "nominal", "legend": null}}},
{"data": {"values": [{"t": "C"}]}, "mark": {"type": "text", "fontSize": 21, "fontWeight": "bold", "align": "left", "dx": 9, "baseline": "middle", "dy": 1, "color": "black"},
 "encoding": {"x": {"datum": 1605, "type": "quantitative", "axis": null}, "y": {"datum": 0.8, "type": "quantitative", "axis": null}, "text": {"field": "t"}}},
{"data": {"values": [{"t": "PAL"}]}, "mark": {"type": "text", "fontSize": 22.5, "fontWeight": "bold", "align": "right", "dx": -10, "baseline": "middle", "dy": 1, "color": "black"},
 "encoding": {"x": {"datum": 1730, "type": "quantitative", "axis": null}, "y": {"datum": 0.8, "type": "quantitative", "axis": null}, "text": {"field": "t"}}}
]
},
{
"width": 478, "height": 155,
"resolve": {"axis": {"x": "independent", "y": "independent"}},
"layer": [
{"data": {"name": "dK"}, "mark": {"type": "rule", "strokeWidth": 3.5},
 "encoding": {
  "x": {"field": "x", "type": "quantitative", "scale": {"domain": [1605, 1730], "nice": false, "zero": false}, "axis": {"orient": "bottom", "values": [1625,1650,1675,1700,1725], "grid": true, "gridColor": "#d4d4d4", "gridDash": [5,4], "gridWidth": 1, "ticks": false, "labels": true, "format": "d", "labelFontSize": 21, "labelColor": "black", "labelPadding": 12, "domain": false, "title": "Wavenumber (cm⁻¹)", "titleFontSize": 23, "titleFontWeight": "normal", "titleColor": "black", "titlePadding": 19}},
  "y": {"field": "h", "type": "quantitative", "scale": {"domain": [-0.215, 1.61], "nice": false, "zero": false}, "axis": {"orient": "left", "values": [0], "grid": true, "gridColor": "#d4d4d4", "gridWidth": 1.2, "ticks": false, "labels": false, "domain": false, "title": "ΔA (norm.)", "titleFontSize": 23, "titleFontWeight": "normal", "titleColor": "black", "titlePadding": 27, "minExtent": 0, "maxExtent": 0}},
  "y2": {"datum": 0},
  "color": {"field": "grp", "type": "nominal", "scale": {"domain": ["NmLOV","BsLOV"], "range": ["#000000","#999999"]}, "legend": null}}},
{"data": {"name": "dL"}, "mark": {"type": "line", "strokeWidth": 2, "clip": true},
 "encoding": {
  "x": {"field": "x", "type": "quantitative", "scale": {"domain": [1605, 1730], "nice": false, "zero": false}, "axis": {"orient": "bottom", "values": [1625,1650,1675,1700,1725], "tickSize": -9, "tickWidth": 1.6, "tickColor": "black", "labels": false, "domain": false, "grid": false, "title": null}},
  "y": {"field": "y", "type": "quantitative", "scale": {"domain": [-0.215, 1.61], "nice": false, "zero": false}, "axis": {"orient": "left", "values": [0,1], "tickSize": -9, "tickWidth": 1.6, "tickColor": "black", "labels": false, "domain": false, "grid": false, "title": null, "minExtent": 0, "maxExtent": 0}},
  "color": {"field": "grp", "type": "nominal", "legend": null}}},
{"data": {"name": "dA"}, "mark": {"type": "rule", "strokeWidth": 1.5},
 "encoding": {
  "x": {"field": "x", "type": "quantitative", "scale": {"domain": [1605, 1730], "nice": false, "zero": false}, "axis": {"orient": "bottom", "values": [1610,1615,1620,1630,1635,1640,1645,1655,1660,1665,1670,1680,1685,1690,1695,1705,1710,1715,1720], "tickSize": -5, "tickWidth": 1.6, "tickColor": "black", "labels": false, "domain": false, "grid": false, "title": null}},
  "x2": {"field": "xt"},
  "y": {"field": "tail", "type": "quantitative", "scale": {"domain": [-0.215, 1.61], "nice": false, "zero": false}, "axis": {"orient": "left", "values": [0.5], "tickSize": -5, "tickWidth": 1.6, "tickColor": "black", "labels": false, "domain": false, "grid": false, "title": null, "minExtent": 0, "maxExtent": 0}},
  "y2": {"field": "tip"},
  "color": {"field": "grp", "type": "nominal", "legend": null}}},
{"data": {"name": "dA"}, "mark": {"type": "point", "filled": true, "size": 289, "opacity": 1, "strokeWidth": 0},
 "encoding": {
  "x": {"field": "xt", "type": "quantitative", "scale": {"domain": [1605, 1730], "nice": false, "zero": false}, "axis": {"orient": "top", "values": [1625,1650,1675,1700,1725], "tickSize": -9, "tickWidth": 1.6, "tickColor": "black", "labels": false, "domain": false, "grid": false, "title": null}},
  "y": {"field": "tip", "type": "quantitative", "scale": {"domain": [-0.215, 1.61], "nice": false, "zero": false}, "axis": {"orient": "right", "values": [0,1], "tickSize": -9, "tickWidth": 1.6, "tickColor": "black", "labels": false, "domain": false, "grid": false, "title": null, "minExtent": 0, "maxExtent": 0}},
  "shape": {"field": "dir", "type": "nominal", "scale": {"domain": ["up","down","nne","sse","se","ese","ssw","sw"], "range": ["M0,0L-0.38,1L0.38,1Z","M0,0L-0.38,-1L0.38,-1Z","M0,0L-0.793,0.719L-0.115,1.064Z","M0,0L-0.244,-1.042L-0.874,-0.617Z","M0,0L-0.387,-0.997L-0.951,-0.489Z","M0,0L-0.617,-0.874L-1.041,-0.244Z","M0,0L0.754,-0.759L0.06,-1.069Z","M0,0L0.968,-0.455L0.422,-0.983Z"]}, "legend": null},
  "color": {"field": "grp", "type": "nominal", "legend": null}}},
{"data": {"name": "dA"}, "mark": {"type": "text", "fontSize": 18.5, "baseline": "middle", "dy": 1},
 "encoding": {
  "x": {"field": "lx", "type": "quantitative", "scale": {"domain": [1605, 1730], "nice": false, "zero": false}, "axis": {"orient": "top", "values": [1610,1615,1620,1630,1635,1640,1645,1655,1660,1665,1670,1680,1685,1690,1695,1705,1710,1715,1720], "tickSize": -5, "tickWidth": 1.6, "tickColor": "black", "labels": false, "domain": false, "grid": false, "title": null}},
  "y": {"field": "ly", "type": "quantitative", "scale": {"domain": [-0.215, 1.61], "nice": false, "zero": false}, "axis": {"orient": "right", "values": [0.5], "tickSize": -5, "tickWidth": 1.6, "tickColor": "black", "labels": false, "domain": false, "grid": false, "title": null, "minExtent": 0, "maxExtent": 0}},
  "text": {"field": "lab"},
  "color": {"field": "grp", "type": "nominal", "legend": null}}},
{"data": {"name": "dM"}, "mark": {"type": "text", "fontSize": 18.5, "align": "right", "dx": -10, "baseline": "middle", "dy": 1},
 "encoding": {"x": {"datum": 1730, "type": "quantitative", "axis": null}, "y": {"field": "y", "type": "quantitative", "axis": null}, "text": {"field": "t"}, "color": {"field": "grp", "type": "nominal", "legend": null}}},
{"data": {"name": "dN"}, "mark": {"type": "text", "fontSize": 18.5, "fontStyle": "italic", "align": "right", "dx": -47, "baseline": "middle", "dy": 1},
 "encoding": {"x": {"datum": 1730, "type": "quantitative", "axis": null}, "y": {"field": "y", "type": "quantitative", "axis": null}, "text": {"field": "t"}, "color": {"field": "grp", "type": "nominal", "legend": null}}},
{"data": {"values": [{"t": "D"}]}, "mark": {"type": "text", "fontSize": 21, "fontWeight": "bold", "align": "left", "dx": 9, "baseline": "middle", "dy": 1, "color": "black"},
 "encoding": {"x": {"datum": 1605, "type": "quantitative", "axis": null}, "y": {"datum": 1.33, "type": "quantitative", "axis": null}, "text": {"field": "t"}}},
{"data": {"values": [{"t": "QM/MM"}]}, "mark": {"type": "text", "fontSize": 22.5, "fontWeight": "bold", "align": "right", "dx": -10, "baseline": "middle", "dy": 1, "color": "black"},
 "encoding": {"x": {"datum": 1730, "type": "quantitative", "axis": null}, "y": {"datum": 1.33, "type": "quantitative", "axis": null}, "text": {"field": "t"}}}
]
}
]
}
